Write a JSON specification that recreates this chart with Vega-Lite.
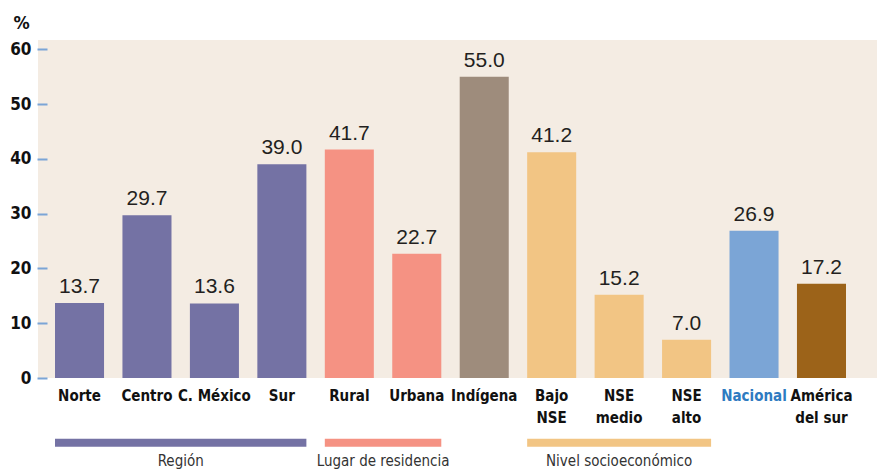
{
  "$schema": "https://vega.github.io/schema/vega-lite/v6.json",
  "autosize": {"type": "none"},
  "padding": {"left": 38, "top": 40, "right": 0, "bottom": 94},
  "width": 839,
  "height": 338,
  "background": "#ffffff",
  "config": {
    "view": {"fill": "#F4ECE3", "stroke": null},
    "font": "DejaVu Sans Condensed, Liberation Sans, sans-serif"
  },
  "datasets": {
    "barras": [
      {"categoria": "Norte", "grupo": "Región", "valor": 13.7},
      {"categoria": "Centro", "grupo": "Región", "valor": 29.7},
      {"categoria": "C. México", "grupo": "Región", "valor": 13.6},
      {"categoria": "Sur", "grupo": "Región", "valor": 39.0},
      {"categoria": "Rural", "grupo": "Lugar de residencia", "valor": 41.7},
      {"categoria": "Urbana", "grupo": "Lugar de residencia", "valor": 22.7},
      {"categoria": "Indígena", "grupo": "Indígena", "valor": 55.0},
      {"categoria": "Bajo|NSE", "grupo": "Nivel socioeconómico", "valor": 41.2},
      {"categoria": "NSE|medio", "grupo": "Nivel socioeconómico", "valor": 15.2},
      {"categoria": "NSE|alto", "grupo": "Nivel socioeconómico", "valor": 7.0},
      {"categoria": "Nacional", "grupo": "Nacional", "valor": 26.9},
      {"categoria": "América|del sur", "grupo": "América del sur", "valor": 17.2}
    ],
    "grupos": [
      {"grupo": "Región", "desde": "Norte", "hasta": "Sur", "medio": "Centro", "par": true},
      {"grupo": "Lugar de residencia", "desde": "Rural", "hasta": "Urbana", "medio": "Rural", "par": true},
      {"grupo": "Nivel socioeconómico", "desde": "Bajo|NSE", "hasta": "NSE|alto", "medio": "NSE|medio", "par": false}
    ]
  },
  "encoding": {
    "x": {
      "field": "categoria",
      "type": "nominal",
      "sort": null,
      "scale": {
        "domain": ["Norte", "Centro", "C. México", "Sur", "Rural", "Urbana", "Indígena", "Bajo|NSE", "NSE|medio", "NSE|alto", "Nacional", "América|del sur"],
        "range": [17, 808],
        "paddingInner": 0.273,
        "paddingOuter": 0
      },
      "axis": {
        "title": null,
        "domain": false,
        "ticks": false,
        "labelAngle": 0,
        "labelFont": "DejaVu Sans Condensed, Liberation Sans, sans-serif",
        "labelFontWeight": "bold",
        "labelFontSize": 15,
        "labelPadding": 10,
        "labelLineHeight": 22,
        "labelExpr": "split(datum.label, '|')",
        "labelColor": {"condition": {"test": "datum.value == 'Nacional'", "value": "#2E7BC1"}, "value": "#111111"}
      }
    }
  },
  "layer": [
    {
      "data": {"name": "barras"},
      "mark": {"type": "bar"},
      "encoding": {
        "y": {
          "field": "valor",
          "type": "quantitative",
          "scale": {"domain": [0, 61.7], "nice": false},
          "axis": {
            "title": "%",
            "titleAngle": 0,
            "titleAlign": "center",
            "titleBaseline": "alphabetic",
            "titleX": -26,
            "titleY": -12,
            "titleFont": "DejaVu Sans Condensed, Liberation Sans, sans-serif",
            "titleFontWeight": "bold",
            "titleFontSize": 18,
            "titleColor": "#111111",
            "values": [0, 10, 20, 30, 40, 50, 60],
            "offset": -9,
            "domain": false,
            "grid": false,
            "tickSize": 10,
            "tickWidth": 2,
            "tickColor": "#7BA5D6",
            "labelPadding": 6,
            "labelFont": "DejaVu Sans Condensed, Liberation Sans, sans-serif",
            "labelFontWeight": "bold",
            "labelFontSize": 17,
            "labelColor": "#111111"
          }
        },
        "color": {
          "field": "grupo",
          "type": "nominal",
          "legend": null,
          "scale": {
            "domain": ["Región", "Lugar de residencia", "Indígena", "Nivel socioeconómico", "Nacional", "América del sur"],
            "range": ["#7472A4", "#F59283", "#9E8C7C", "#F2C584", "#7BA5D6", "#9C6319"]
          }
        }
      }
    },
    {
      "data": {"name": "barras"},
      "mark": {"type": "text", "baseline": "alphabetic", "dy": -10, "fontSize": 21, "font": "Liberation Sans", "color": "#231F20"},
      "encoding": {
        "y": {"field": "valor", "type": "quantitative"},
        "text": {"field": "valor", "type": "quantitative", "format": ".1f"}
      }
    },
    {
      "data": {"name": "grupos"},
      "mark": {"type": "rule", "strokeWidth": 8, "clip": false},
      "encoding": {
        "x": {"field": "desde", "type": "nominal", "bandPosition": 0},
        "x2": {"field": "hasta", "bandPosition": 1},
        "y": {"datum": -11.8, "type": "quantitative"},
        "color": {"field": "grupo", "type": "nominal", "legend": null}
      }
    },
    {
      "data": {"name": "grupos"},
      "transform": [{"filter": "datum.par"}],
      "mark": {"type": "text", "baseline": "alphabetic", "fontSize": 15, "font": "DejaVu Sans Condensed, Liberation Sans, sans-serif", "color": "#333333", "clip": false},
      "encoding": {
        "x": {"field": "medio", "type": "nominal", "bandPosition": 1.188},
        "y": {"datum": -16.1, "type": "quantitative"},
        "text": {"field": "grupo"}
      }
    },
    {
      "data": {"name": "grupos"},
      "transform": [{"filter": "!datum.par"}],
      "mark": {"type": "text", "baseline": "alphabetic", "fontSize": 15, "font": "DejaVu Sans Condensed, Liberation Sans, sans-serif", "color": "#333333", "clip": false},
      "encoding": {
        "x": {"field": "medio", "type": "nominal", "bandPosition": 0.5},
        "y": {"datum": -16.1, "type": "quantitative"},
        "text": {"field": "grupo"}
      }
    }
  ]
}
